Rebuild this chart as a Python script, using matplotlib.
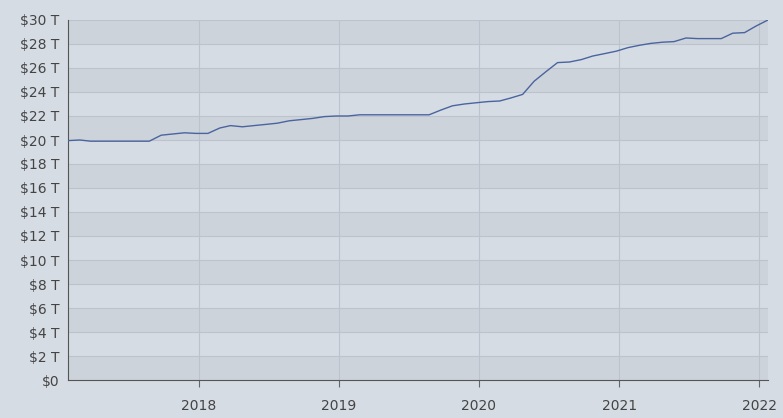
import numpy as np
import pandas as pd
import matplotlib
matplotlib.use("Agg")
import matplotlib.pyplot as plt
import matplotlib.dates as mdates
from matplotlib.ticker import FuncFormatter

# monthly debt, trillions USD, late Jan 2017 .. late Jan 2022
months = pd.date_range("2017-01-01", "2022-01-01", freq="MS") + pd.Timedelta(days=23)
debt = [
    19.95, 20.0, 19.9, 19.9, 19.9, 19.9, 19.9, 19.9, 20.4, 20.5, 20.6, 20.55,
    20.55, 21.0, 21.2, 21.1, 21.2, 21.3, 21.4, 21.6, 21.7, 21.8, 21.95, 22.0,
    22.0, 22.1, 22.1, 22.1, 22.1, 22.1, 22.1, 22.1, 22.5, 22.85, 23.0, 23.1,
    23.2, 23.25, 23.5, 23.8, 24.9, 25.7, 26.45, 26.5, 26.7, 27.0, 27.2, 27.4,
    27.7, 27.9, 28.05, 28.15, 28.2, 28.5, 28.45, 28.45, 28.45, 28.9, 28.95, 29.5,
    30.0,
]
y_ticks = list(range(0, 31, 2))

bg = "#d5dce4"
fig = plt.figure(figsize=(7.83, 4.18), dpi=100, facecolor=bg)
ax = fig.add_axes([68 / 783, 38 / 418, 700 / 783, 360 / 418])
ax.set_facecolor(bg)

for lo in range(0, 30, 4):
    ax.axhspan(lo, lo + 2, color="#cdd3da", zorder=0, lw=0)

ax.plot(months, debt, color="#4a64a0", lw=1.0, zorder=3)

ax.set_ylim(0, 30)
ax.set_xlim(months[0], months[-1])
ax.set_yticks(y_ticks)
ax.yaxis.set_major_formatter(FuncFormatter(lambda v, _: "$0" if v == 0 else f"${v:.0f} T"))
ax.xaxis.set_major_locator(mdates.YearLocator())
ax.xaxis.set_major_formatter(mdates.DateFormatter("%Y"))

ax.grid(True, color="#bcc3cc", lw=0.8, zorder=1)
ax.tick_params(colors="#444444", labelsize=10, length=0, pad=6)
ax.tick_params(axis="x", length=5, color="#666666", pad=9)
for s in ["top", "right"]:
    ax.spines[s].set_visible(False)
for s in ["left", "bottom"]:
    ax.spines[s].set_color("#555555")

fig.savefig("out.png", dpi=100, facecolor=bg)
